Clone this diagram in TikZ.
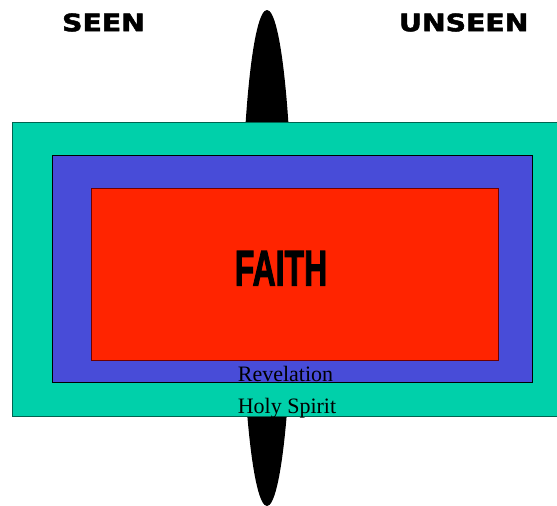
\documentclass[tikz,border=0pt]{standalone}
\usepackage{fontspec}
\setmainfont{Liberation Serif}
\newfontfamily\headfont[FakeBold=2]{DejaVu Sans Bold}
\newfontfamily\faithfont[FakeBold=2.5]{Liberation Sans Bold}
\usepackage{xcolor}
\definecolor{spiritgreen}{RGB}{0,208,170}
\definecolor{spiritline}{RGB}{0,100,80}
\definecolor{revblue}{RGB}{72,76,216}
\definecolor{faithred}{RGB}{255,36,0}
\definecolor{faithline}{RGB}{110,0,0}

\begin{document}
\begin{tikzpicture}[x=1pt,y=-1pt,
  heading/.style={inner sep=0pt,
    font=\headfont\fontsize{24}{24}\selectfont},
  caption/.style={inner sep=0pt, anchor=base,
    font=\fontsize{22}{22}\selectfont}]
  \useasboundingbox (0,0) rectangle (557,506);
  % the divide
  \fill[black] (267,258) ellipse [x radius=25.5, y radius=248];
  % holy spirit
  \fill[spiritgreen] (12,122) rectangle (570,416);
  \draw[spiritline, line width=1pt] (570,122) -- (12,122) -- (12,416) -- (570,416);
  % revelation
  \fill[revblue] (52,155) rectangle (532,382);
  \draw[black, line width=1pt] (52,155) rectangle (532,382);
  % faith
  \fill[faithred] (91,188) rectangle (498,360);
  \draw[faithline, line width=1pt] (91,188) rectangle (498,360);
  \node[inner sep=0pt, anchor=base, font=\faithfont\fontsize{50}{50}\selectfont]
    (faith) at (281,285.5) {\scalebox{0.64}[1]{FAITH}};
  \node[caption] (revelation) at (285.5,381) {Revelation};
  \node[caption] (spirit) at (287,413) {Holy Spirit};
  \node[heading] (seen) at (103.5,22.5) {\scalebox{1.18}[1]{SEEN}};
  \node[heading] (unseen) at (463.7,22.5) {\scalebox{1.18}[1]{UNSEEN}};
\end{tikzpicture}
\end{document}
